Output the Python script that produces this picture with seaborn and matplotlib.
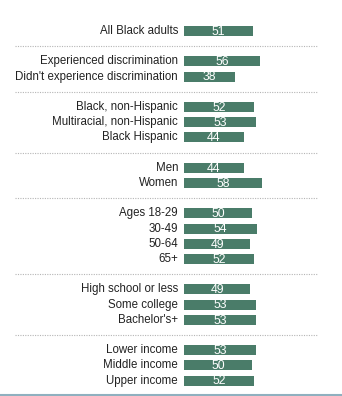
import matplotlib
matplotlib.use("Agg")
import matplotlib.pyplot as plt
import seaborn as sns
import pandas as pd
from matplotlib.lines import Line2D

sns.set_style("white")
plt.rcParams['font.family'] = ['Liberation Sans', 'DejaVu Sans']

groups = [
    ["All Black adults"],
    ["Experienced discrimination", "Didn't experience discrimination"],
    ["Black, non-Hispanic", "Multiracial, non-Hispanic", "Black Hispanic"],
    ["Men", "Women"],
    ["Ages 18-29", "30-49", "50-64", "65+"],
    ["High school or less", "Some college", "Bachelor's+"],
    ["Lower income", "Middle income", "Upper income"],
]
values = [
    [51],
    [56, 38],
    [52, 53, 44],
    [44, 58],
    [50, 54, 49, 52],
    [49, 53, 53],
    [53, 50, 52],
]

labels, vals, pos, seps = [], [], [], []
p = 0
for gi, (g, v) in enumerate(zip(groups, values)):
    for lab, val in zip(g, v):
        labels.append(lab)
        vals.append(val)
        pos.append(p)
        p += 1
    if gi < len(groups) - 1:
        seps.append(p)
        p += 1

df = pd.DataFrame({"label": labels, "value": vals, "pos": pos})

W, H = 342, 396
fig = plt.figure(figsize=(W / 100, H / 100), dpi=100)
ax = fig.add_axes([0, 0, 1, 1])

zero_px, ppu = 184, 1.353
top_px, step = 31, 15.2
ax.set_xlim(-zero_px / ppu, (W - zero_px) / ppu)
ax.set_ylim((H - top_px) / step, -top_px / step)

bar_color = "#4a7c69"
sns.barplot(data=df, x="value", y="pos", orient="h", native_scale=True,
            color=bar_color, width=0.66, saturation=1, ax=ax, linewidth=0)
for patch in ax.patches:
    y0 = patch.get_y() + patch.get_height() / 2
    patch.set_height(0.66)
    patch.set_y(y0 - 0.33)
ax.set_ylim((H - top_px) / step, -top_px / step)

for _, r in df.iterrows():
    ax.text(-4.4, r["pos"], r["label"], ha="right", va="center",
            fontsize=8.3, color="#222222")
    ax.text(r["value"] / 2, r["pos"] + 0.05, str(r["value"]), ha="center",
            va="center", fontsize=8.8, color="white")

for s in seps:
    ax.hlines(s, (15 - zero_px) / ppu, (318 - zero_px) / ppu,
              colors="#b5b5b5", linestyles=(0, (1, 1.2)), linewidth=0.8)

ax.axis("off")
fig.add_artist(Line2D([0, 1], [1 - 395 / H, 1 - 395 / H], transform=fig.transFigure,
                      color="#8fb0bf", linewidth=1.5))

fig.savefig("out.png", dpi=100)
